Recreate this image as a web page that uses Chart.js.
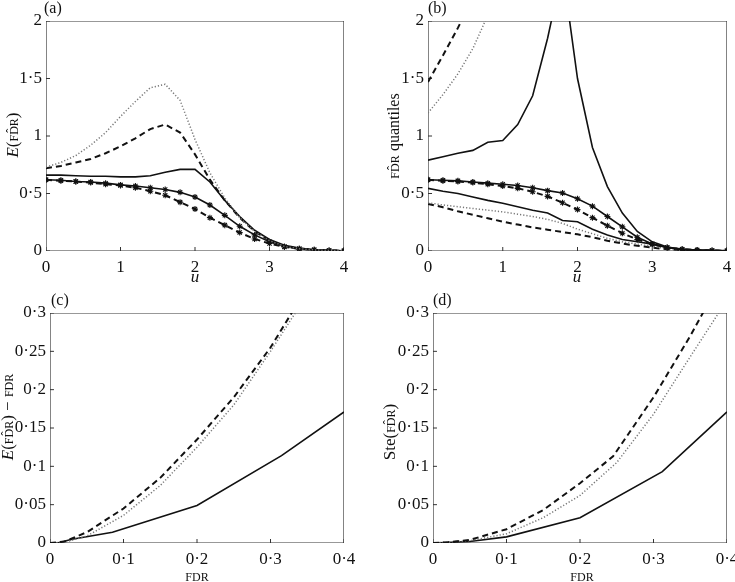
<!DOCTYPE html>
<html>
<head>
<meta charset="utf-8">
<script src="https://cdn.jsdelivr.net/npm/chart.js@4.4.1/dist/chart.umd.min.js"></script>
<style>
  body { margin: 0; background: #fff; width: 735px; height: 582px; position: relative; overflow: hidden; }
  .panel { position: absolute; }
  canvas { display: block; }
  .lab { position: absolute; font-family: 'Liberation Serif', serif; font-size: 17px; line-height: 1;
         white-space: nowrap; color: #111; transform: translate(-50%, -50%); }
  .rot { transform: translate(-50%, -50%) rotate(-90deg); }
  .tag { position: absolute; font-family: 'Liberation Serif', serif; font-size: 16px; line-height: 1; color: #111; }
  .sc { font-size: 12px; }
  .q { font-size: 16px; }
</style>
</head>
<body>
<div class="panel" style="left:0;top:0"><canvas id="pa" width="367" height="290"></canvas></div>
<div class="panel" style="left:367px;top:0"><canvas id="pb" width="368" height="290"></canvas></div>
<div class="panel" style="left:0;top:290px"><canvas id="pc" width="367" height="292"></canvas></div>
<div class="panel" style="left:367px;top:290px"><canvas id="pd" width="368" height="292"></canvas></div>

<div class="tag" style="left:44px;top:0px">(a)</div>
<div class="tag" style="left:428px;top:0px">(b)</div>
<div class="tag" style="left:51px;top:292px">(c)</div>
<div class="tag" style="left:433px;top:292px">(d)</div>

<div class="lab" style="left:195px;top:276px"><i>u</i></div>
<div class="lab" style="left:577px;top:276px"><i>u</i></div>
<div class="lab sc" style="left:197px;top:577px">FDR</div>
<div class="lab sc" style="left:582px;top:577px">FDR</div>

<div class="lab rot" style="left:12px;top:135px"><i>E</i>(<span class="sc">FD&#770;R</span>)</div>
<div class="lab rot" style="left:393px;top:136px"><span class="sc">FD&#770;R</span> <span class="q">quantiles</span></div>
<div class="lab rot" style="left:7px;top:417px"><i>E</i>(<span class="sc">FD&#770;R</span>) &minus; <span class="sc">FDR</span></div>
<div class="lab rot" style="left:389px;top:432px">Ste(<span class="sc">FD&#770;R</span>)</div>

<script>
// u grid used by panels (a) and (b)
var uGrid = [0, 0.2, 0.4, 0.6, 0.8, 1, 1.2, 1.4, 1.6, 1.8, 2, 2.2, 2.4, 2.6, 2.8, 3, 3.2, 3.4, 3.6, 3.8, 4];

// panel (a): E(FDR hat)
var aDotted  = [0.73, 0.77, 0.83, 0.92, 1.03, 1.17, 1.30, 1.42, 1.45, 1.31, 0.97, 0.68, 0.46, 0.29, 0.17, 0.09, 0.04, 0.02, 0.01, 0.005, 0.002];
var aDashed  = [0.72, 0.74, 0.77, 0.80, 0.85, 0.91, 0.98, 1.06, 1.10, 1.03, 0.84, 0.62, 0.44, 0.29, 0.17, 0.09, 0.04, 0.02, 0.01, 0.005, 0.002];
var aSolid   = [0.66, 0.66, 0.655, 0.65, 0.65, 0.645, 0.645, 0.655, 0.685, 0.71, 0.71, 0.60, 0.44, 0.30, 0.18, 0.10, 0.05, 0.025, 0.01, 0.005, 0.002];
var aSolidX  = [0.62, 0.615, 0.605, 0.60, 0.59, 0.575, 0.565, 0.55, 0.535, 0.51, 0.47, 0.40, 0.31, 0.215, 0.14, 0.08, 0.04, 0.02, 0.01, 0.005, 0.002];
var aDashedX = [0.62, 0.61, 0.605, 0.595, 0.58, 0.57, 0.55, 0.52, 0.485, 0.425, 0.365, 0.29, 0.225, 0.16, 0.105, 0.065, 0.035, 0.02, 0.01, 0.005, 0.002];

// panel (b): FDR hat quantiles
var bDashedHiU = [0, 0.2, 0.4, 0.6];
var bDashedHi  = [1.47, 1.70, 1.94, 2.20];
var bDottedHiU = [0, 0.2, 0.4, 0.6, 0.8];
var bDottedHi  = [1.20, 1.36, 1.54, 1.76, 2.05];
var bSolid   = [0.79, 0.82, 0.85, 0.875, 0.945, 0.96, 1.10, 1.35, 1.85, 2.45, 1.50, 0.90, 0.56, 0.33, 0.17, 0.08, 0.035, 0.015, 0.008, 0.004, 0.002];
var bSolidX  = [0.62, 0.615, 0.61, 0.60, 0.59, 0.58, 0.57, 0.55, 0.525, 0.505, 0.455, 0.39, 0.30, 0.21, 0.12, 0.06, 0.03, 0.015, 0.008, 0.004, 0.002];
var bDashedX = [0.62, 0.61, 0.605, 0.595, 0.58, 0.565, 0.545, 0.515, 0.475, 0.42, 0.36, 0.29, 0.22, 0.155, 0.10, 0.06, 0.03, 0.015, 0.008, 0.004, 0.002];
var bSolidLo  = [0.545, 0.52, 0.50, 0.47, 0.44, 0.415, 0.385, 0.355, 0.33, 0.265, 0.255, 0.19, 0.14, 0.10, 0.08, 0.06, 0.03, 0.015, 0.008, 0.004, 0.002];
var bDottedLo = [0.42, 0.40, 0.385, 0.37, 0.355, 0.34, 0.32, 0.30, 0.275, 0.24, 0.19, 0.15, 0.11, 0.08, 0.06, 0.04, 0.02, 0.01, 0.005, 0.002, 0.001];
var bDashedLo = [0.41, 0.38, 0.345, 0.315, 0.285, 0.255, 0.23, 0.205, 0.185, 0.165, 0.145, 0.12, 0.09, 0.065, 0.045, 0.03, 0.015, 0.008, 0.004, 0.002, 0.001];

// panel (c): E(FDR hat) - FDR against FDR
var cSolidX  = [0, 0.01, 0.03, 0.085, 0.2, 0.315, 0.4];
var cSolidY  = [0, 0, 0.005, 0.014, 0.049, 0.114, 0.171];
var cDashedX = [0, 0.02, 0.05, 0.1, 0.15, 0.2, 0.25, 0.3, 0.33];
var cDashedY = [0, 0.002, 0.014, 0.045, 0.085, 0.135, 0.19, 0.255, 0.302];
var cDottedX = [0, 0.02, 0.05, 0.1, 0.15, 0.2, 0.25, 0.3, 0.335];
var cDottedY = [0, 0.001, 0.009, 0.036, 0.075, 0.125, 0.18, 0.25, 0.302];

// panel (d): Ste(FDR hat) against FDR
var dSolidX  = [0, 0.05, 0.1, 0.2, 0.312, 0.4];
var dSolidY  = [0, 0.002, 0.008, 0.033, 0.093, 0.171];
var dDashedX = [0, 0.02, 0.05, 0.1, 0.15, 0.2, 0.245, 0.3, 0.35, 0.37];
var dDashedY = [0, 0.001, 0.004, 0.018, 0.043, 0.078, 0.113, 0.19, 0.27, 0.305];
var dDottedX = [0, 0.05, 0.1, 0.15, 0.2, 0.25, 0.3, 0.35, 0.392];
var dDottedY = [0, 0.003, 0.012, 0.033, 0.062, 0.105, 0.168, 0.243, 0.305];

// ticks
var uTicks = [0, 1, 2, 3, 4];
var uLabels = ["0", "1", "2", "3", "4"];
var abTicks = [0, 0.5, 1, 1.5, 2];
var abLabels = ["0", "0·5", "1", "1·5", "2"];
var fdrTicks = [0, 0.1, 0.2, 0.3, 0.4];
var fdrLabels = ["0", "0·1", "0·2", "0·3", "0·4"];
var cdTicks = [0, 0.05, 0.1, 0.15, 0.2, 0.25, 0.3];
var cdLabels = ["0", "0·05", "0·1", "0·15", "0·2", "0·25", "0·3"];

var SERIF = "'Liberation Serif', serif";
var INK = "#111";

function pts(xs, ys) {
  return xs.map(function (x, i) { return { x: x, y: ys[i] }; });
}

function solid(xs, ys) {
  return { data: pts(xs, ys), borderColor: INK, borderWidth: 1.6, pointRadius: 0, tension: 0 };
}
function dashed(xs, ys) {
  return { data: pts(xs, ys), borderColor: INK, borderWidth: 2, borderDash: [6, 4], pointRadius: 0, tension: 0 };
}
function dotted(xs, ys) {
  return { data: pts(xs, ys), borderColor: "#777", borderWidth: 1.5, borderDash: [1.2, 2], pointRadius: 0, tension: 0 };
}
function marked(ds) {
  ds.pointRadius = 3;
  ds.pointStyle = "star";
  ds.pointBorderColor = INK;
  ds.pointBorderWidth = 1.1;
  return ds;
}

// box round the plot area plus short inward ticks, drawn as line datasets
// on the same scales (corners are the axis limits, ticks come from the tick arrays)
function boxAndTicks(xT, xMax, yT, yMax) {
  var xLen = xMax * 4 / 296, yLen = yMax * 4 / 230;
  var box = [{ x: 0, y: 0 }, { x: xMax, y: 0 }, { x: xMax, y: yMax }, { x: 0, y: yMax }, { x: 0, y: 0 }];
  var ticks = [];
  xT.forEach(function (t) { ticks.push({ x: t, y: 0 }, { x: t, y: yLen }, { x: t, y: null }); });
  yT.forEach(function (t) { ticks.push({ x: 0, y: t }, { x: xLen, y: t }, { x: xLen, y: null }); });
  return [
    { data: box, borderColor: "#333", borderWidth: 1.2, pointRadius: 0, tension: 0 },
    { data: ticks, borderColor: "#333", borderWidth: 1, pointRadius: 0, tension: 0, spanGaps: false }
  ];
}

function axes(xT, xL, xMax, yT, yL, yMax, yWidth, xHeight) {
  var tickFont = { family: SERIF, size: 17 };
  return {
    x: {
      type: "linear", min: 0, max: xMax,
      grid: { display: false, drawTicks: false }, border: { display: false },
      ticks: { font: tickFont, color: INK, padding: 6, maxRotation: 0, autoSkip: false,
        callback: function (v, i) { return xL[i]; } },
      afterBuildTicks: function (s) { s.ticks = xT.map(function (v) { return { value: v }; }); },
      afterFit: function (s) { s.height = xHeight; s.paddingLeft = 0; s.paddingRight = 0; }
    },
    y: {
      type: "linear", min: 0, max: yMax,
      grid: { display: false, drawTicks: false }, border: { display: false },
      ticks: { font: tickFont, color: INK, padding: 4, autoSkip: false,
        callback: function (v, i) { return yL[i]; } },
      afterBuildTicks: function (s) { s.ticks = yT.map(function (v) { return { value: v }; }); },
      afterFit: function (s) { s.width = yWidth; s.paddingTop = 0; s.paddingBottom = 0; }
    }
  };
}

function makeChart(id, datasets, scales, pad) {
  return new Chart(document.getElementById(id), {
    type: "line",
    data: { datasets: datasets },
    options: {
      responsive: false, animation: false,
      layout: { padding: pad },
      plugins: { legend: { display: false }, tooltip: { enabled: false } },
      scales: scales
    }
  });
}

makeChart("pa", [
  dotted(uGrid, aDotted),
  dashed(uGrid, aDashed),
  solid(uGrid, aSolid),
  marked(solid(uGrid, aSolidX)),
  marked(dashed(uGrid, aDashedX))
].concat(boxAndTicks(uTicks, 4, abTicks, 2)),
  axes(uTicks, uLabels, 4, abTicks, abLabels, 2, 46, 39),
  { top: 21, right: 23, left: 0, bottom: 0 });

makeChart("pb", [
  dashed(bDashedHiU, bDashedHi),
  dotted(bDottedHiU, bDottedHi),
  solid(uGrid, bSolid),
  marked(solid(uGrid, bSolidX)),
  marked(dashed(uGrid, bDashedX)),
  solid(uGrid, bSolidLo),
  dotted(uGrid, bDottedLo),
  dashed(uGrid, bDashedLo)
].concat(boxAndTicks(uTicks, 4, abTicks, 2)),
  axes(uTicks, uLabels, 4, abTicks, abLabels, 2, 61, 39),
  { top: 21, right: 8, left: 0, bottom: 0 });

makeChart("pc", [
  dashed(cDashedX, cDashedY),
  dotted(cDottedX, cDottedY),
  solid(cSolidX, cSolidY)
].concat(boxAndTicks(fdrTicks, 0.4, cdTicks, 0.3)),
  axes(fdrTicks, fdrLabels, 0.4, cdTicks, cdLabels, 0.3, 50, 39),
  { top: 23, right: 23, left: 0, bottom: 0 });

makeChart("pd", [
  dashed(dDashedX, dDashedY),
  dotted(dDottedX, dDottedY),
  solid(dSolidX, dSolidY)
].concat(boxAndTicks(fdrTicks, 0.4, cdTicks, 0.3)),
  axes(fdrTicks, fdrLabels, 0.4, cdTicks, cdLabels, 0.3, 66, 39),
  { top: 23, right: 8, left: 0, bottom: 0 });
</script>
</body>
</html>
